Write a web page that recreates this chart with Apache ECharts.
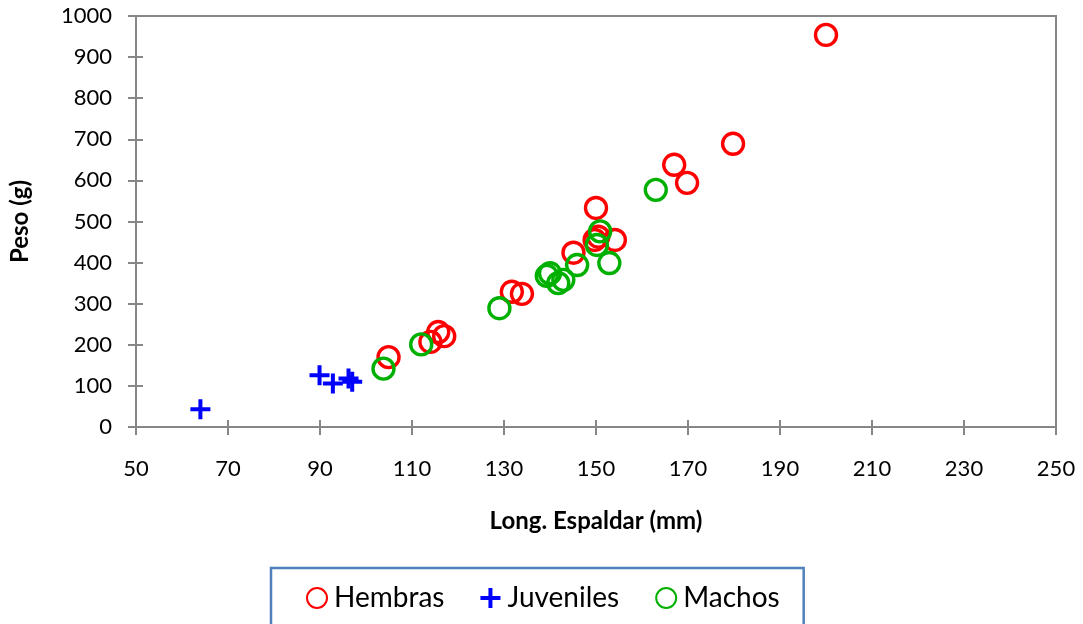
<!DOCTYPE html>
<html>
<head>
<meta charset="utf-8">
<script src="https://cdn.jsdelivr.net/npm/echarts@6/dist/echarts.min.js"></script>
<style>
  html, body { margin: 0; padding: 0; background: #fff; }
  #chart { width: 1083px; height: 624px; }
</style>
</head>
<body>
<div id="chart"></div>
<script>
// Peso frente a longitud espaldar, por grupo
const hembras = [
  [104.9, 170], [114.0, 207], [115.7, 231], [117.0, 221],
  [131.7, 329], [133.9, 324], [145.1, 424], [150.0, 533],
  [150.5, 463], [149.7, 455], [154.1, 455], [167.0, 638],
  [169.8, 594], [179.8, 689], [200.0, 954]
];
const juveniles = [
  [64.0, 43], [89.9, 126], [92.8, 106], [96.2, 118], [97.0, 110]
];
const machos = [
  [103.8, 142], [112.0, 201], [129.0, 289], [139.3, 368],
  [140.0, 374], [141.8, 350], [142.9, 358], [145.9, 394],
  [150.2, 443], [150.9, 476], [152.9, 399], [163.0, 577]
];
const seriesNames = ['Hembras', 'Juveniles', 'Machos'];
const xTitle = 'Long. Espaldar (mm)';
const yTitle = 'Peso (g)';

const axisGray = '#878787';
const font = 'Lato, "Open Sans", sans-serif';
const plusPath = 'path://M8,0L12,0L12,8L20,8L20,12L12,12L12,20L8,20L8,12L0,12L0,8L8,8Z';
const plain = (v) => String(v);

const ringStyle = (c) => ({ color: 'rgba(255,255,255,0)', borderColor: c, borderWidth: 3.4, opacity: 1 });

const chart = echarts.init(document.getElementById('chart'), null, { renderer: 'canvas' });
chart.setOption({
  backgroundColor: '#fff',
  animation: false,
  grid: { left: 136, right: 27, top: 16, bottom: 197, show: true, borderColor: axisGray, borderWidth: 2, backgroundColor: 'transparent' },
  legend: {
    data: seriesNames,
    left: 271, top: 568,
    padding: [16, 24, 40, 35],
    itemGap: 36,
    itemWidth: 20, itemHeight: 20,
    borderColor: '#4f81bd', borderWidth: 2.5, borderRadius: 0,
    textStyle: { fontFamily: font, fontSize: 28, color: '#000', padding: [0, 0, 0, 2] }
  },
  xAxis: [{
    type: 'value', min: 50, max: 250, interval: 20,
    name: xTitle, nameLocation: 'middle', nameGap: 82,
    nameTextStyle: { fontFamily: font, fontSize: 24, fontWeight: 'bold', color: '#000' },
    axisLine: { show: true, onZero: false, lineStyle: { color: axisGray, width: 2 } },
    axisTick: { show: true, length: 8, lineStyle: { color: axisGray, width: 2 } },
    axisLabel: { fontFamily: font, fontSize: 22, color: '#000', margin: 31, formatter: plain },
    splitLine: { show: false }
  }, {
    type: 'value', min: 50, max: 250, interval: 20, position: 'bottom',
    axisLine: { show: false },
    axisTick: { show: true, inside: true, length: 7, lineStyle: { color: axisGray, width: 2 } },
    axisLabel: { show: false }, splitLine: { show: false }
  }],
  yAxis: [{
    type: 'value', min: 0, max: 1000, interval: 100,
    name: yTitle, nameLocation: 'middle', nameGap: 104, nameRotate: 90,
    nameTextStyle: { fontFamily: font, fontSize: 24, fontWeight: 'bold', color: '#000' },
    axisLine: { show: true, onZero: false, lineStyle: { color: axisGray, width: 2 } },
    axisTick: { show: true, length: 8, lineStyle: { color: axisGray, width: 2 } },
    axisLabel: { fontFamily: font, fontSize: 22, color: '#000', margin: 24, formatter: plain },
    splitLine: { show: false }
  }, {
    type: 'value', min: 0, max: 1000, interval: 100, position: 'left',
    axisLine: { show: false },
    axisTick: { show: true, inside: true, length: 7, lineStyle: { color: axisGray, width: 2 } },
    axisLabel: { show: false }, splitLine: { show: false }
  }],
  series: [
    { name: seriesNames[0], type: 'scatter', data: hembras, symbol: 'circle', symbolSize: 21, itemStyle: ringStyle('#ff0000'), z: 3 },
    { name: seriesNames[1], type: 'scatter', data: juveniles, symbol: plusPath, symbolSize: 20, itemStyle: { color: '#0000ff', opacity: 1 }, z: 2 },
    { name: seriesNames[2], type: 'scatter', data: machos, symbol: 'circle', symbolSize: 21, itemStyle: ringStyle('#00b000'), z: 4 }
  ]
});
</script>
</body>
</html>
